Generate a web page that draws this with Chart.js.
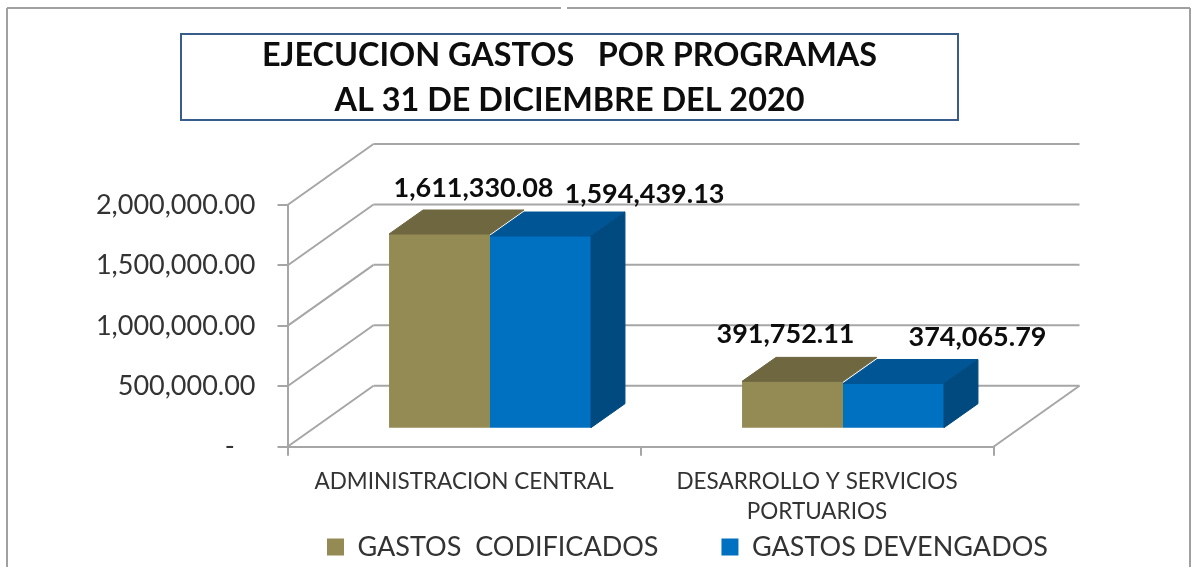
<!DOCTYPE html>
<html>
<head>
<meta charset="utf-8">
<style>
  html, body { margin: 0; padding: 0; background: #fff; }
  canvas { display: block; }
</style>
<script src="https://cdn.jsdelivr.net/npm/chart.js@4"></script>
</head>
<body>
<canvas id="gastos" width="1197" height="567"></canvas>
<script>
const categories = ['ADMINISTRACION CENTRAL', ['DESARROLLO Y SERVICIOS', 'PORTUARIOS']];
const codificados = [1611330.08, 391752.11];
const devengados = [1594439.13, 374065.79];
const titleLines = ['EJECUCION GASTOS   POR PROGRAMAS', 'AL 31 DE DICIEMBRE DEL 2020'];

// Pseudo 3D set-up, all in pixels
const WALL = { dx: 86, dy: -61 };
const BAR_SHIFT = { x: 26, y: -18 };
const BAR_DEPTH = { dx: 34, dy: -24 };
const GRID = '#a6a6a6';
const TEXT = '#333333';

// Excel had these labels dragged by hand: [dataset][point] offset from bar top centre
const LABEL_SHIFT = [[[34, -46], [-7, -47]], [[104, -42], [84, -46]]];

const fmt = v => v.toLocaleString('en-US', { minimumFractionDigits: 2, maximumFractionDigits: 2 });

function line(ctx, x1, y1, x2, y2) {
  ctx.beginPath();
  ctx.moveTo(x1, y1);
  ctx.lineTo(x2, y2);
  ctx.stroke();
}

function face(ctx, pts, color) {
  ctx.fillStyle = color;
  ctx.strokeStyle = color;
  ctx.lineWidth = 1;
  ctx.beginPath();
  pts.forEach((p, i) => (i ? ctx.lineTo(p[0], p[1]) : ctx.moveTo(p[0], p[1])));
  ctx.closePath();
  ctx.fill();
  ctx.stroke();
}

const frame3d = {
  id: 'frame3d',
  afterInit(chart) {
    // the legend gap needs a big padding, but it must not eat the plot height
    const fit = chart.legend.fit;
    chart.legend.fit = function () {
      fit.call(this);
      this.height = 40;
    };
  },
  afterLayout(chart) {
    // title box and legend are off-centre in the original
    chart.titleBlock.left = 181;
    chart.titleBlock.right = 958;
    chart.legend.left = 264;
    chart.legend.right = 1197;
    chart.legend.top = 470.5;
  },
  beforeDraw(chart) {
    const { ctx } = chart;
    ctx.save();
    ctx.strokeStyle = '#a0a0a0';
    ctx.lineWidth = 2;
    line(ctx, 7, 567, 7, 8);
    line(ctx, 7, 8, 561, 8);
    line(ctx, 567, 8, 1190, 8);
    line(ctx, 1190, 8, 1190, 567);
    ctx.strokeStyle = '#385d8a';
    ctx.strokeRect(181, 34, 777, 86);
    ctx.restore();
  },
  beforeDatasetsDraw(chart) {
    const { ctx, chartArea, scales } = chart;
    const y = scales.y;
    ctx.save();
    ctx.strokeStyle = GRID;
    ctx.lineWidth = 2;
    y.ticks.forEach(t => {
      const py = y.getPixelForValue(t.value);
      line(ctx, chartArea.left, py, chartArea.left + WALL.dx, py + WALL.dy);
      line(ctx, chartArea.left + WALL.dx, py + WALL.dy, chartArea.right + WALL.dx, py + WALL.dy);
    });
    line(ctx, chartArea.right, chartArea.bottom, chartArea.right + WALL.dx, chartArea.bottom + WALL.dy);
    ctx.restore();

    ctx.save();
    ctx.translate(BAR_SHIFT.x, BAR_SHIFT.y);
  },
  afterDatasetsDraw(chart) {
    const { ctx } = chart;
    const last = chart.data.datasets.length - 1;
    chart.data.datasets.forEach((ds, i) => {
      chart.getDatasetMeta(i).data.forEach(bar => {
        const l = bar.x - bar.width / 2;
        const r = bar.x + bar.width / 2;
        const d = BAR_DEPTH;
        face(ctx, [[l, bar.y], [r, bar.y], [r + d.dx, bar.y + d.dy], [l + d.dx, bar.y + d.dy]], ds.topColor);
        // bars touch, so only the right-most one shows a side
        if (i === last) {
          face(ctx, [[r, bar.y], [r + d.dx, bar.y + d.dy], [r + d.dx, bar.base + d.dy], [r, bar.base]], ds.sideColor);
        }
      });
    });
    ctx.restore();

    ctx.save();
    ctx.fillStyle = '#0d0d0d';
    ctx.font = 'bold 27px Lato';
    ctx.textAlign = 'center';
    ctx.textBaseline = 'middle';
    chart.data.datasets.forEach((ds, i) => {
      chart.getDatasetMeta(i).data.forEach((bar, j) => {
        const s = LABEL_SHIFT[i][j];
        ctx.fillText(fmt(ds.data[j]), bar.x + BAR_SHIFT.x + s[0], bar.y + BAR_SHIFT.y + s[1]);
      });
    });
    ctx.restore();
  },
};

new Chart(document.getElementById('gastos'), {
  type: 'bar',
  plugins: [frame3d],
  data: {
    labels: categories,
    datasets: [
      {
        label: 'GASTOS  CODIFICADOS',
        data: codificados,
        backgroundColor: '#948a54',
        topColor: '#6f6740',
        sideColor: '#5f5836',
        clip: false,
        categoryPercentage: 0.572,
        barPercentage: 1,
      },
      {
        label: 'GASTOS DEVENGADOS',
        data: devengados,
        backgroundColor: '#0070c0',
        topColor: '#005595',
        sideColor: '#004a80',
        clip: false,
        categoryPercentage: 0.572,
        barPercentage: 1,
      },
    ],
  },
  options: {
    responsive: false,
    animation: false,
    layout: { padding: { left: 0, right: 203.5, top: 0, bottom: 0 } },
    plugins: {
      tooltip: { enabled: false },
      title: {
        display: true,
        text: titleLines,
        color: '#0d0d0d',
        font: { family: 'Lato', size: 32.4, weight: 'bold', lineHeight: 1.38 },
        padding: { top: 33, bottom: 82.6 },
      },
      legend: {
        position: 'bottom',
        align: 'start',
        labels: {
          color: TEXT,
          font: { family: 'Lato', size: 27 },
          boxWidth: 17,
          boxHeight: 17,
          padding: 63,
        },
      },
    },
    scales: {
      x: {
        afterFit(scale) { scale.height = 80.3; },
        grid: { drawOnChartArea: false, color: GRID, lineWidth: 2, tickLength: 9 },
        border: { color: GRID, width: 2 },
        ticks: {
          color: TEXT,
          autoSkip: false,
          maxRotation: 0,
          padding: 11,
          font: { family: 'Lato', size: 22.5, lineHeight: 1.33 },
        },
      },
      y: {
        min: 0,
        max: 2000000,
        afterFit(scale) { scale.width = 287.5; },
        grid: { drawOnChartArea: false, color: GRID, lineWidth: 2, tickLength: 10 },
        border: { color: GRID, width: 2 },
        ticks: {
          stepSize: 500000,
          color: TEXT,
          padding: 22,
          font: { family: 'Lato', size: 27 },
          // accounting format: the dash sits left of the decimals
          callback: v => (v === 0 ? '-   ' : fmt(v)),
        },
      },
    },
  },
});
</script>
</body>
</html>
